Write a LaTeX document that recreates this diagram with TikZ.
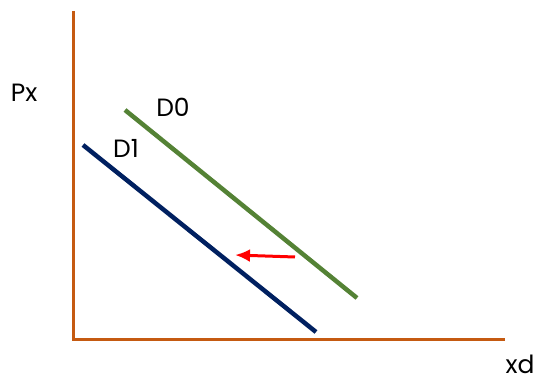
\documentclass[tikz,border=0pt]{standalone}
\usepackage{fontspec}
\setmainfont{Poppins}
\usetikzlibrary{arrows.meta}
\definecolor{axisc}{HTML}{C55A11}
\definecolor{greenc}{HTML}{548235}
\definecolor{navyc}{HTML}{002060}
\begin{document}
\begin{tikzpicture}[x=1pt,y=-1pt,
  axisline/.style={draw=axisc,line width=3pt},
  curve/.style={line width=4.5pt},
  lbl/.style={font=\fontsize{25}{30}\selectfont,inner sep=0pt}]
\useasboundingbox (0,0) rectangle (536,382);
\coordinate (top) at (73,11);
\coordinate (origin) at (73,340);
\coordinate (right) at (505,340);
\draw[axisline] (top) -- (origin) -- (right);
\coordinate (g1) at (125,110);
\coordinate (g2) at (357,298);
\coordinate (n1) at (83,145);
\coordinate (n2) at (316,332);
\draw[curve,draw=greenc] (g1) -- (g2);
\draw[curve,draw=navyc] (n1) -- (n2);
\coordinate (a1) at (295,257);
\coordinate (a2) at (235,255);
\draw[red,line width=3pt,-{Latex[length=15pt,width=13pt]}] (a1) -- (a2);
\node[lbl] (px) at (24,93) {Px};
\node[lbl] (d0) at (173,107) {D0};
\node[lbl] (d1) at (126,148) {D1};
\node[lbl] (xd) at (520,364) {xd};
\end{tikzpicture}
\end{document}
